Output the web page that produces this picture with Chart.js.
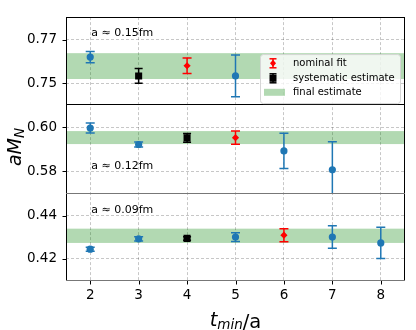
<!DOCTYPE html>
<html lang="en">
  <head>
    <meta charset="UTF-8" />
    <title>aM_N vs t_min</title>
    <style>
      html,
      body {
        margin: 0;
        padding: 0;
        background: #fff;
      }
      .container {
        width: 416px;
        height: 330px;
      }
    </style>
  </head>
  <body>
    <div class="container">
      <canvas id="myChart"></canvas>
    </div>

    <script src="https://cdn.jsdelivr.net/npm/chart.js"></script>
    <script>
      // t_min/a values shared by all three lattice spacings
      const tmin = [2, 3, 4, 5, 6, 7, 8];
      const xTicks = [2, 3, 4, 5, 6, 7, 8];

      // a ~ 0.15fm
      const mass15 = [0.7621, 0.7534, 0.7581, 0.7534];
      const err15 = [0.0026, 0.0034, 0.0036, 0.0096];
      const kind15 = ["fit", "sys", "nom", "fit"];
      const band15 = [0.752, 0.7639];
      const yTicks15 = [0.75, 0.77];

      // a ~ 0.12fm
      const mass12 = [0.5996, 0.5921, 0.5951, 0.5952, 0.5892, 0.5806];
      const err12 = [0.0023, 0.0011, 0.002, 0.003, 0.008, 0.0127];
      const kind12 = ["fit", "fit", "sys", "nom", "fit", "fit"];
      const band12 = [0.5923, 0.5982];
      const yTicks12 = [0.58, 0.6];

      // a ~ 0.09fm
      const mass09 = [0.4245, 0.4293, 0.4295, 0.4301, 0.431, 0.4301, 0.4274];
      const err09 = [0.0009, 0.001, 0.0008, 0.002, 0.003, 0.0052, 0.0072];
      const kind09 = ["fit", "fit", "sys", "fit", "nom", "fit", "fit"];
      const band09 = [0.4274, 0.434];
      const yTicks09 = [0.42, 0.44];

      const panels = [
        { id: "y1", text: "a ≈ 0.15fm", mass: mass15, err: err15, kind: kind15, band: band15, ticks: yTicks15, min: 0.7403, max: 0.7805, h: 89.5, textAt: 0.216 },
        { id: "y2", text: "a ≈ 0.12fm", mass: mass12, err: err12, kind: kind12, band: band12, ticks: yTicks12, min: 0.57, max: 0.6103, h: 91, textAt: 0.725 },
        { id: "y3", text: "a ≈ 0.09fm", mass: mass09, err: err09, kind: kind09, band: band09, ticks: yTicks09, min: 0.4098, max: 0.4504, h: 90, textAt: 0.222 },
      ];

      const styles = {
        fit: { color: "#1f77b4", pointStyle: "circle", radius: 3.6, cap: 4.5 },
        sys: { color: "#000000", pointStyle: "rect", radius: 5, cap: 4 },
        nom: { color: "#ff0000", pointStyle: "rectRot", radius: 3.6, cap: 4.5 },
      };

      const datasets = [];
      panels.forEach((p) => {
        ["fit", "sys", "nom"].forEach((k) => {
          const idx = p.kind.map((kk, i) => (kk === k ? i : -1)).filter((i) => i >= 0);
          if (!idx.length) return;
          const s = styles[k];
          datasets.push({
            type: "scatter",
            yAxisID: p.id,
            data: idx.map((i) => ({ x: tmin[i], y: p.mass[i] })),
            errors: idx.map((i) => p.err[i]),
            cap: s.cap,
            backgroundColor: s.color,
            borderColor: s.color,
            borderWidth: 0,
            pointStyle: s.pointStyle,
            pointRadius: s.radius,
            pointHoverRadius: s.radius,
          });
        });
      });

      const gridStyle = {
        color: "rgba(0,0,0,0.22)",
        lineWidth: 1,
        drawTicks: false,
      };
      const font = { family: '"DejaVu Sans"', size: 13.5 };

      const scales = {
        x: {
          type: "linear",
          min: 1.5,
          max: 8.5,
          afterBuildTicks: (s) => {
            s.ticks = xTicks.map((v) => ({ value: v }));
          },
          afterFit: (s) => {
            s.height = 49;
          },
          grid: gridStyle,
          border: { display: false, dash: [3, 2] },
          ticks: { color: "#000", font: font, padding: 6 },
        },
      };
      // the last panel listed goes on top of the stack
      panels
        .slice()
        .reverse()
        .forEach((p, i) => {
          scales[p.id] = {
            type: "linear",
            position: "left",
            stack: "panels",
            stackWeight: p.h,
            weight: i + 1,
            min: p.min,
            max: p.max,
            afterBuildTicks: (s) => {
              s.ticks = p.ticks.map((v) => ({ value: v }));
            },
            afterFit: (s) => {
              s.width = 66;
            },
            grid: gridStyle,
            border: { display: false, dash: [3, 2] },
            ticks: {
              color: "#000",
              font: font,
              padding: 9,
              callback: (v) => v.toFixed(2),
            },
          };
        });

      function line(ctx, x1, y1, x2, y2) {
        ctx.beginPath();
        ctx.moveTo(x1, y1);
        ctx.lineTo(x2, y2);
        ctx.stroke();
      }

      function errMark(ctx, x, y, color, kind) {
        ctx.strokeStyle = color;
        ctx.fillStyle = color;
        ctx.lineWidth = 1.5;
        line(ctx, x, y - 4.5, x, y + 4.5);
        line(ctx, x - 3.5, y - 4.5, x + 3.5, y - 4.5);
        line(ctx, x - 3.5, y + 4.5, x + 3.5, y + 4.5);
        ctx.beginPath();
        if (kind === "nom") {
          ctx.moveTo(x, y - 3.5);
          ctx.lineTo(x + 3, y);
          ctx.lineTo(x, y + 3.5);
          ctx.lineTo(x - 3, y);
          ctx.closePath();
        } else {
          ctx.rect(x - 3.5, y - 3.5, 7, 7);
        }
        ctx.fill();
      }

      const panelPlugin = {
        id: "panels",
        beforeDatasetsDraw(chart) {
          const { ctx, chartArea } = chart;
          // final estimate bands
          panels.forEach((p) => {
            const ys = chart.scales[p.id];
            ctx.save();
            ctx.beginPath();
            ctx.rect(chartArea.left, ys.top, chartArea.width, ys.bottom - ys.top);
            ctx.clip();
            const y0 = ys.getPixelForValue(p.band[1]);
            const y1 = ys.getPixelForValue(p.band[0]);
            ctx.fillStyle = "rgba(0,128,0,0.3)";
            ctx.fillRect(chartArea.left, y0, chartArea.width, y1 - y0);
            ctx.restore();
          });
          // error bars
          chart.data.datasets.forEach((ds, di) => {
            const meta = chart.getDatasetMeta(di);
            const ys = chart.scales[ds.yAxisID];
            ctx.save();
            ctx.beginPath();
            ctx.rect(chartArea.left, ys.top, chartArea.width, ys.bottom - ys.top);
            ctx.clip();
            ctx.strokeStyle = ds.borderColor;
            ctx.lineWidth = 1.5;
            meta.data.forEach((pt, i) => {
              const v = ds.data[i].y;
              const e = ds.errors[i];
              const top = ys.getPixelForValue(v + e);
              const bot = ys.getPixelForValue(v - e);
              line(ctx, pt.x, top, pt.x, bot);
              line(ctx, pt.x - ds.cap, top, pt.x + ds.cap, top);
              line(ctx, pt.x - ds.cap, bot, pt.x + ds.cap, bot);
            });
            ctx.restore();
          });
        },
        afterDraw(chart) {
          const { ctx, chartArea } = chart;
          const L = chartArea.left;
          const R = chartArea.right;
          const xs = chart.scales.x;
          ctx.save();

          // frames and separators
          panels.forEach((p, i) => {
            const ys = chart.scales[p.id];
            ctx.lineWidth = 1;
            ctx.strokeStyle = "#000";
            line(ctx, L + 0.5, ys.top, L + 0.5, ys.bottom);
            line(ctx, R - 0.5, ys.top, R - 0.5, ys.bottom);
            ctx.strokeStyle = i === 0 ? "#000" : "#000";
            line(ctx, L, Math.round(ys.top) + 0.5, R, Math.round(ys.top) + 0.5);
            // y tick marks
            ys.ticks.forEach((t) => {
              const y = Math.round(ys.getPixelForValue(t.value)) + 0.5;
              line(ctx, L - 3.5, y, L, y);
            });
            // spacing label
            ctx.fillStyle = "#000";
            ctx.font = '11px "DejaVu Sans"';
            ctx.textBaseline = "alphabetic";
            ctx.textAlign = "left";
            ctx.fillText(p.text, xs.getPixelForValue(2) + 1, ys.top + p.textAt * (ys.bottom - ys.top));
          });
          const y3 = chart.scales.y3;
          ctx.strokeStyle = "#777";
          line(ctx, L, Math.round(y3.top) + 0.5, R, Math.round(y3.top) + 0.5);
          line(ctx, L, Math.round(y3.bottom) - 0.5, R, Math.round(y3.bottom) - 0.5);
          // x tick marks
          ctx.strokeStyle = "#000";
          xTicks.forEach((v) => {
            const x = Math.round(xs.getPixelForValue(v)) + 0.5;
            line(ctx, x, chartArea.bottom, x, chartArea.bottom + 3.5);
          });

          // legend
          const y1 = chart.scales.y1;
          const bx = R - 145;
          const by = y1.top + 37;
          const bw = 140;
          const bh = 49;
          ctx.beginPath();
          ctx.roundRect(bx + 0.5, by + 0.5, bw, bh, 3);
          ctx.fillStyle = "rgba(255,255,255,0.8)";
          ctx.fill();
          ctx.strokeStyle = "#d6d6d6";
          ctx.lineWidth = 1;
          ctx.stroke();
          const mx = bx + 13;
          const tx = bx + 33;
          const rows = [by + 9.2, by + 24.2, by + 38.2];
          errMark(ctx, mx, rows[0], "#ff0000", "nom");
          errMark(ctx, mx, rows[1], "#000000", "sys");
          ctx.fillStyle = "rgba(0,128,0,0.3)";
          ctx.fillRect(bx + 4, rows[2] - 3.5, 21, 7);
          ctx.fillStyle = "#000";
          ctx.font = '10px "DejaVu Sans"';
          ctx.textBaseline = "middle";
          ctx.fillText("nominal fit", tx, rows[0]);
          ctx.fillText("systematic estimate", tx, rows[1]);
          ctx.fillText("final estimate", tx, rows[2]);

          // y title: aM_N
          ctx.save();
          ctx.translate(21, (chartArea.top + chartArea.bottom) / 2 - 2);
          ctx.rotate(-Math.PI / 2);
          ctx.textBaseline = "alphabetic";
          ctx.font = 'italic 19px "DejaVu Sans"';
          const wMain = ctx.measureText("aM").width;
          ctx.font = 'italic 13.5px "DejaVu Sans"';
          const wSub = ctx.measureText("N").width;
          let x0 = -(wMain + wSub) / 2;
          ctx.font = 'italic 19px "DejaVu Sans"';
          ctx.fillText("aM", x0, 0);
          ctx.font = 'italic 13.5px "DejaVu Sans"';
          ctx.fillText("N", x0 + wMain, 3);
          ctx.restore();

          // x title: t_min/a
          ctx.textBaseline = "alphabetic";
          ctx.font = 'italic 19.5px "DejaVu Sans"';
          const wt = ctx.measureText("t").width;
          ctx.font = 'italic 13.5px "DejaVu Sans"';
          const wm = ctx.measureText("min").width;
          ctx.font = '19.5px "DejaVu Sans"';
          const wa = ctx.measureText("/a").width;
          let xx = (L + R) / 2 - (wt + wm + wa) / 2;
          ctx.font = 'italic 19.5px "DejaVu Sans"';
          ctx.fillText("t", xx, 326);
          ctx.font = 'italic 13.5px "DejaVu Sans"';
          ctx.fillText("min", xx + wt, 328.5);
          ctx.font = '19.5px "DejaVu Sans"';
          ctx.fillText("/a", xx + wt + wm, 327.5);
          ctx.restore();
        },
      };

      const config = {
        type: "scatter",
        data: { datasets: datasets },
        options: {
          responsive: true,
          maintainAspectRatio: false,
          animation: false,
          layout: { padding: { top: 11, right: 11, left: 0, bottom: 0 } },
          plugins: {
            legend: { display: false },
            tooltip: { enabled: false },
          },
          scales: scales,
        },
        plugins: [panelPlugin],
      };

      const ctx = document.getElementById("myChart");

      new Chart(ctx, config);
    </script>
  </body>
</html>
